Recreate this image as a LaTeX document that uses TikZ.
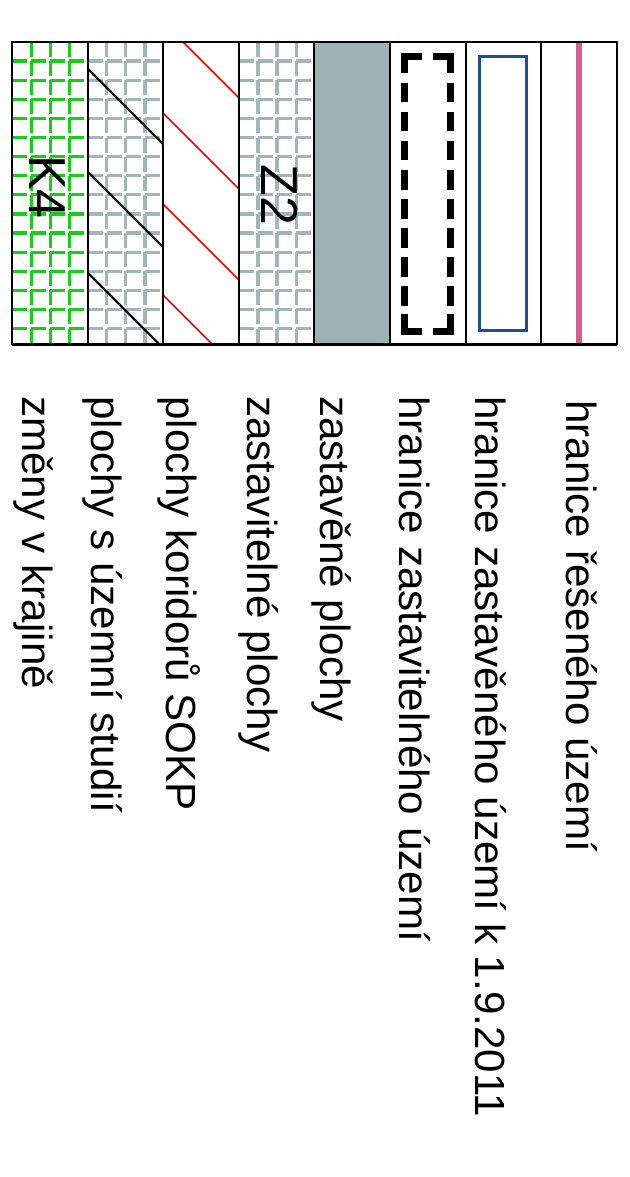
\documentclass[tikz,border=0pt]{standalone}
\usepackage{fontspec}
\setmainfont{Liberation Sans}

\definecolor{grdgray}{RGB}{160,182,186}
\definecolor{fillgray}{RGB}{155,177,180}
\definecolor{grdgreen}{RGB}{24,206,24}
\definecolor{bndblue}{RGB}{30,80,145}
\definecolor{bndpink}{RGB}{212,96,145}

% dashed grid filling one legend cell: #1 = left edge, #2 = colour
\newcommand{\cellgrid}[2]{%
  \begin{scope}
    \clip (#1,42) rectangle ({#1+75.6},344);
    \foreach \k in {1,...,15}
      \draw[grd, draw=#2] (#1,{42+19.1*\k}) -- ({#1+75.6},{42+19.1*\k});
    \foreach \k in {1,2,3}
      \draw[grd, draw=#2] ({#1+19.1*\k},42) -- ({#1+19.1*\k},344);
  \end{scope}}

\begin{document}
\begin{tikzpicture}[x=0.75pt, y=-0.75pt,
  % Text styles
  lbl/.style={rotate=-90, anchor=base west, inner sep=0pt,
              font=\fontsize{31.6}{36}\selectfont},
  kod/.style={rotate=-90, anchor=base west, inner sep=0pt,
              font=\fontsize{39}{44}\selectfont},
  % Line styles
  frame/.style={draw=black, line width=1.5pt},
  grd/.style={line width=2.4pt, dash pattern=on 11.25pt off 3.08pt},
  hatch/.style={line width=1.6pt},
  bnd/.style={line width=5.25pt, line cap=butt, line join=miter},
]
\useasboundingbox (0,0) rectangle (630,1177);

% === Swatches (left to right) ===
% K4: green grid
\cellgrid{12}{grdgreen}
% study areas: gray grid + black hatch
\cellgrid{87.6}{grdgray}
\begin{scope}
  \clip (87.6,42) rectangle (163.2,344);
  \foreach \c in {-19,84,185}
    \draw[hatch, black] (87.6,{87.6+\c}) -- (163.2,{163.2+\c});
\end{scope}
% SOKP corridors: red hatch
\begin{scope}
  \clip (163.2,42) rectangle (238.8,344);
  \foreach \c in {-141,-50,41,132}
    \draw[hatch, red, line width=1.1pt] (163.2,{163.2+\c}) -- (238.8,{238.8+\c});
\end{scope}
% Z2: gray grid
\cellgrid{238.8}{grdgray}
% built-up areas: gray fill
\fill[fillgray] (314.4,42) rectangle (390,344);

% dashed boundary
\draw[bnd] (404.5,73) -- (404.5,56.5) -- (422,56.5);
\draw[bnd] (433,56.5) -- (450.5,56.5) -- (450.5,73);
\draw[bnd] (404.5,314) -- (404.5,331.5) -- (422,331.5);
\draw[bnd] (433,331.5) -- (450.5,331.5) -- (450.5,314);
\foreach \x in {404.5,450.5}
  \draw[bnd, dash pattern=on 14.5pt off 7.3pt] (\x,83) -- (\x,306);

% blue boundary
\draw[bndblue, line width=2.6pt] (479.5,56.5) rectangle (526.5,330.5);
% pink boundary
\draw[bndpink, line width=4.5pt] (579,42) -- (579,344);

% frame and cell dividers
\draw[frame] (12,42) rectangle (616.8,344);
\foreach \i in {1,...,7}
  \draw[frame] ({12+75.6*\i},42) -- ({12+75.6*\i},344);
\draw[black, line width=2.25pt] (12,344) -- (616.8,344);

% codes inside swatches
\node[kod] (kodK) at (29,155) {K4};
\node[kod] (kodZ) at (261,164) {Z2};

% === Labels ===
\node[lbl] (hrRes)    at (566,400) {hranice řešeného území};
\node[lbl] (hrZast)   at (475,396) {hranice zastavěného území k 1.9.2011};
\node[lbl] (hrZastav) at (399,396) {hranice zastavitelného území};
\node[lbl] (zastPl)   at (320,396) {zastavěné plochy};
\node[lbl] (zastavPl) at (247,396) {zastavitelné plochy};
\node[lbl] (korPl)    at (166,396) {plochy koridorů SOKP};
\node[lbl] (studPl)   at (91,396)  {plochy s územní studií};
\node[lbl] (zmKraj)   at (22,396)  {změny v krajině};

\end{tikzpicture}
\end{document}
